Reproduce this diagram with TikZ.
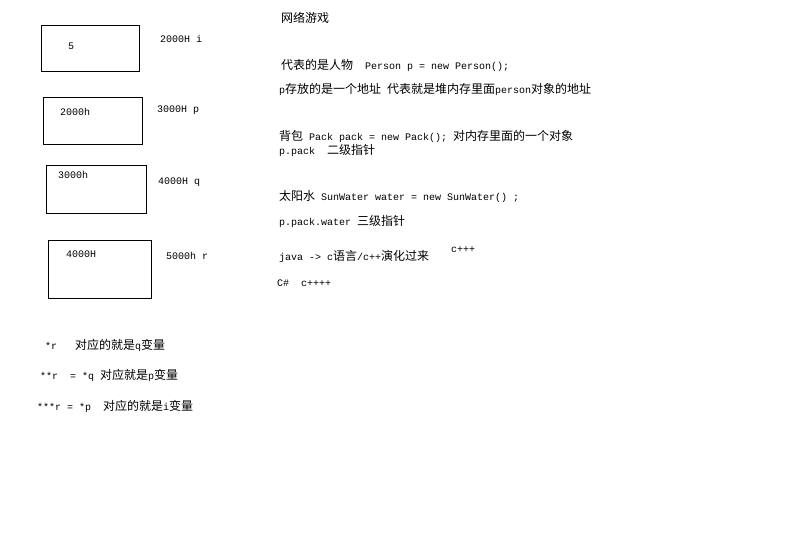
\documentclass[tikz,border=0pt]{standalone}
\usepackage{fontspec}
\setmainfont{Liberation Mono}
\newfontfamily\cjk{Noto Sans CJK SC}
\newcommand{\zh}[1]{{\cjk\fontsize{12}{12}\selectfont #1}}
\usetikzlibrary{positioning}

\tikzset{
  cell/.style={draw, line width=1pt, anchor=north west, inner sep=0pt},
  txt/.style={anchor=west, inner sep=0pt, font=\fontsize{10}{12}\selectfont},
}

\begin{document}
\begin{tikzpicture}[x=1pt, y=-1pt]
    \useasboundingbox (0,0) rectangle (798,545);

    % memory cells
    \node[cell, minimum width=98, minimum height=46] (m1) at (41,25) {};
    \node[cell, minimum width=99, minimum height=47] (m2) at (43,97) {};
    \node[cell, minimum width=100, minimum height=48] (m3) at (46,165) {};
    \node[cell, minimum width=103, minimum height=58] (m4) at (48,240) {};

    \node[txt] (v1) at (68,46) {5};
    \node[txt] (v2) at (60,112) {2000h};
    \node[txt] (v3) at (58,175) {3000h};
    \node[txt] (v4) at (66,254) {4000H};

    % addresses
    \node[txt] (a1) at (160,39) {2000H i};
    \node[txt] (a2) at (157,110) {3000H p};
    \node[txt] (a3) at (158,182) {4000H q};
    \node[txt] (a4) at (166,256) {5000h r};

    % notes
    \node[txt] (n1) at (281,18) {\zh{网络游戏}};
    \node[txt] (n2) at (281,65) {\zh{代表的是人物}\ \ Person p = new Person();};
    \node[txt] (n3) at (279,89) {p\zh{存放的是一个地址} \zh{代表就是堆内存里面}person\zh{对象的地址}};
    \node[txt] (n4) at (279,136) {\zh{背包} Pack pack = new Pack(); \zh{对内存里面的一个对象}};
    \node[txt] (n5) at (279,150) {p.pack\ \ \zh{二级指针}};
    \node[txt] (n6) at (279,197) {\zh{太阳水} SunWater water = new SunWater() ;};
    \node[txt] (n7) at (279,221) {p.pack.water \zh{三级指针}};
    \node[txt] (n8) at (279,256) {java -> c\zh{语言}/c++\zh{演化过来}};
    \node[txt] (n9) at (451,250) {c+++};
    \node[txt] (n10) at (277,283) {C\#\ \ c++++};

    % dereferencing
    \node[txt] (d1) at (45,345) {*r\ \ \ \zh{对应的就是}q\zh{变量}};
    \node[txt] (d2) at (40,375) {**r\ \ = *q \zh{对应就是}p\zh{变量}};
    \node[txt] (d3) at (37,406) {***r = *p\ \ \zh{对应的就是}i\zh{变量}};
\end{tikzpicture}
\end{document}
